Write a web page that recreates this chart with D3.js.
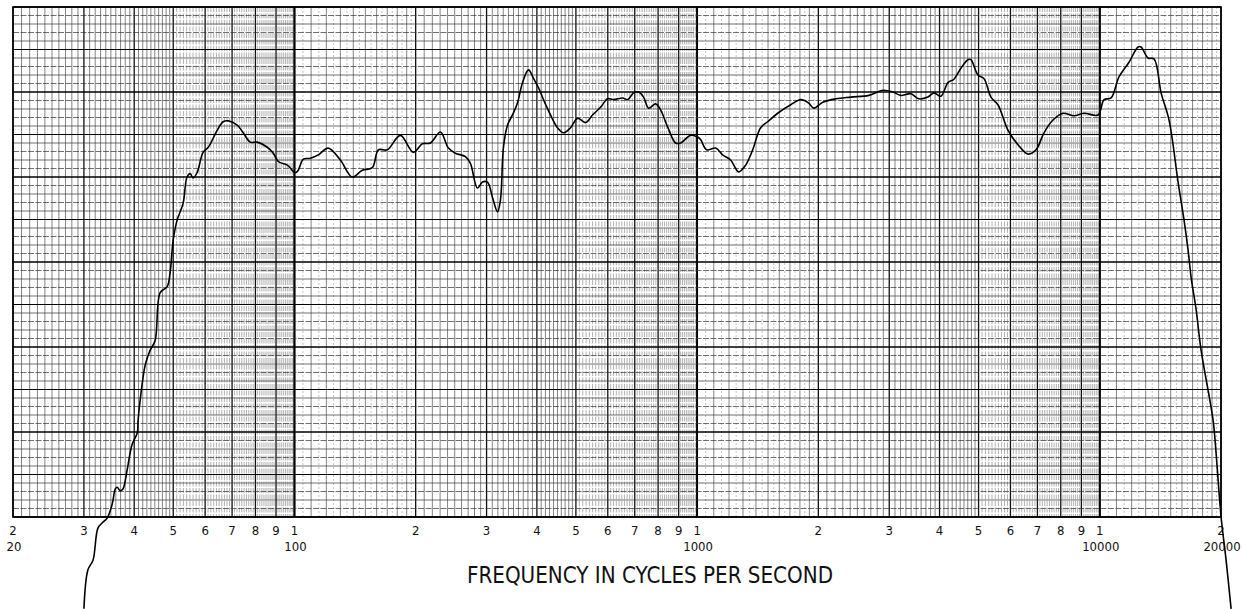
<!DOCTYPE html>
<html>
<head>
<meta charset="utf-8">
<script src="https://cdn.jsdelivr.net/npm/d3@7"></script>
<style>
    body { margin: 0; background: #fff; }
    svg { display: block; }
    .lbl { font-family: "Liberation Sans Narrow", "DejaVu Sans Condensed", "Roboto", sans-serif; font-stretch: condensed; fill: #111; }
</style>
</head>
<body>
<div id="chart"></div>
<script>
// response curve (frequency in Hz, level in dB above bottom line)
const freqs = [30, 30.7, 31.6, 32.5, 33.3, 34.3, 35.3, 35.9, 36.3, 36.9, 37.5, 38.4, 39.5, 40.7, 40.9, 41.4, 42.6, 43.8,
    45.1, 46.4, 48.3, 49.1, 50.0, 51.1, 52.9, 54.1, 55.1, 56.0, 57.3, 59.3, 61.1, 64.3, 66.5, 68.5, 72.1, 74.6, 77.7,
    80.8, 85.6, 88.6, 91.2, 96.0, 100.5, 102.2, 105.2, 109.5, 114.6, 121.3, 130, 139.2, 147.4, 156.1, 161.6, 170.1,
    183.2, 197.4, 207.8, 217.6, 230.4, 241.2, 251, 265.8, 273.5, 284.7, 293, 301.6, 310.3, 319.3, 324.8, 330.4, 338.1,
    347.9, 358, 368.4, 381.3, 392.4, 403.7, 415.4, 432.4, 450, 465.8, 484.9, 504.7, 528.4, 549.9, 575.7, 599.2, 620.2,
    653.1, 672, 695.5, 715.7, 736.3, 757.7, 788.6, 811.5, 844.7, 884.2, 910, 963.6, 1003, 1020, 1056, 1112, 1157, 1211,
    1268, 1320, 1374, 1438, 1497, 1585, 1708, 1809, 1893, 1948, 2052, 2211, 2408, 2670, 2892, 3062, 3206, 3394, 3554,
    3742, 3873, 4031, 4196, 4343, 4520, 4705, 4786, 4981, 5156, 5367, 5586, 5915, 6264, 6631, 6943, 7269, 7652, 8102,
    8631, 9138, 9900, 10246, 10666, 11166, 11820, 12445, 12660, 13178, 13638, 14200, 14860, 15648, 16194, 16570, 16858,
    17348, 17850, 19114, 19447, 20010, 20594, 21190];
const levels = [-10.8, -6.2, -5.1, -1.3, -0.7, -0.1, 1.6, 3.3, 3.5, 3.1, 3.3, 5.5, 8.5, 9.9, 11.4, 13.8, 17.9, 19.6,
    20.8, 26.4, 27.1, 28.7, 32.6, 34.9, 36.9, 40.0, 40.4, 39.9, 40.5, 42.9, 43.5, 45.5, 46.5, 46.6, 46.1, 45.2, 44.1,
    44.1, 43.5, 42.8, 41.8, 41.4, 40.5, 40.8, 42.1, 42.2, 42.6, 43.4, 42.0, 40.0, 40.8, 41.1, 43.2, 43.2,
    44.9, 42.9, 43.9, 44.0, 45.3, 43.4, 42.8, 42.4, 41.6, 38.7, 39.4, 39.4, 37.6, 35.9, 37.3, 43.5, 46.1,
    47.3, 48.7, 51.1, 52.6, 51.6, 50.5, 49.1, 47.3, 45.8, 45.2, 45.8, 46.9, 46.4, 47.3, 48.2, 49.2, 49.1,
    49.3, 49.1, 49.9, 50.0, 49.4, 48.1, 48.6, 47.9, 45.9, 44.0, 44.0, 44.9, 44.7, 44.4, 43.2, 43.4, 42.6, 42.0,
    40.6, 41.4, 43.2, 45.8, 46.5, 47.5, 48.5, 49.1, 48.7, 48.1, 48.8, 49.2, 49.4, 49.6, 50.2, 50.0, 49.6, 49.8, 49.2,
    49.4, 49.9, 49.5, 51.1, 51.5, 52.8, 53.8, 53.8, 52.0, 51.6, 49.4, 48.5, 45.5, 43.8, 42.7, 43.2, 45.2, 46.7, 47.5,
    47.2, 47.5, 47.3, 49.1, 49.3, 51.8, 53.5, 55.3, 55.3, 54.0, 53.9, 49.9, 46.7, 39.4, 34.9, 31.4, 28.2,
    24.4, 19.6, 11.4, 7.5, 0, -5.1, -10.8];

// labels printed under the paper
const tickFreqs = [20, 30, 40, 50, 60, 70, 80, 90, 100, 200, 300, 400, 500, 600, 700, 800, 900, 1000,
    2000, 3000, 4000, 5000, 6000, 7000, 8000, 9000, 10000, 20000];
const decadeLabels = [20, 100, 1000, 10000, 20000];
const title = "FREQUENCY IN CYCLES PER SECOND";

const margin = { top: 7, right: 21, bottom: 92, left: 13 };
const width = 1242 - margin.left - margin.right;
const height = 609 - margin.top - margin.bottom;

const x = d3.scaleLog()
    .domain([20, 20000])
    .range([0, width]);

const y = d3.scaleLinear()
    .domain([0, 60])
    .range([height, 0]);

const svg = d3.select("#chart")
    .append("svg")
    .attr("width", 1242)
    .attr("height", 609)
    .append("g")
    .attr("transform", `translate(${margin.left}, ${margin.top})`);

// vertical rulings of the log paper
let vlines = [];
[10, 100, 1000, 10000].forEach(base => {
    for (let k = 20; k <= 200; k++) {
        const m = k / 20;
        if (m >= 2 && k % 2 == 1) continue;
        const f = base * m;
        if (f < 20 || f > 20000) continue;
        let kind = "minor";
        if (k % 20 == 0) kind = (k == 20 || k == 200) ? "decade" : "major";
        else if (k % 2 == 1) kind = "half";
        else if (m > 5) kind = "fine";
        vlines.push({ f: f, kind: kind });
    }
});

const styles = {
    decade: { w: 1.8, c: "#000", dash: null },
    major: { w: 1.3, c: "#111", dash: null },
    minor: { w: 0.6, c: "#333", dash: null },
    fine: { w: 0.45, c: "#555", dash: "5,1.5" },
    half: { w: 0.5, c: "#888", dash: "2,2" }
};

svg.append("g")
    .selectAll("line")
    .data(vlines)
    .enter()
    .append("line")
    .attr("x1", d => x(d.f))
    .attr("x2", d => x(d.f))
    .attr("y1", 0)
    .attr("y2", height)
    .attr("stroke", d => styles[d.kind].c)
    .attr("stroke-width", d => styles[d.kind].w)
    .attr("stroke-dasharray", d => styles[d.kind].dash);

// horizontal rulings, one per dB
svg.append("g")
    .selectAll("line")
    .data(d3.range(0, 61))
    .enter()
    .append("line")
    .attr("x1", 0)
    .attr("x2", width)
    .attr("y1", d => y(d))
    .attr("y2", d => y(d))
    .attr("stroke", d => d % 5 == 0 ? "#000" : "#333")
    .attr("stroke-width", d => d % 10 == 0 ? 1.6 : (d % 5 == 0 ? 1.1 : 0.7))
    .attr("stroke-dasharray", d => (d % 5 != 0 && d % 2 == 1) ? "6,1.5" : null);

svg.append("rect")
    .attr("width", width)
    .attr("height", height)
    .attr("fill", "none")
    .attr("stroke", "#000")
    .attr("stroke-width", 1.6);

// frequency labels
svg.append("g")
    .selectAll("text")
    .data(tickFreqs)
    .enter()
    .append("text")
    .attr("class", "lbl")
    .attr("x", d => x(d))
    .attr("y", height + 18)
    .attr("text-anchor", "middle")
    .style("font-size", "13px")
    .text(d => String(d)[0]);

svg.append("g")
    .selectAll("text")
    .data(decadeLabels)
    .enter()
    .append("text")
    .attr("class", "lbl")
    .attr("x", d => x(d) + 1)
    .attr("y", height + 34)
    .attr("text-anchor", "middle")
    .style("font-size", "13px")
    .text(d => d);

svg.append("text")
    .attr("class", "lbl")
    .attr("x", 454)
    .attr("y", height + 66)
    .attr("textLength", 366)
    .attr("lengthAdjust", "spacingAndGlyphs")
    .style("font-size", "23px")
    .text(title);

// the response curve
const curve = freqs.map((f, i) => [f, levels[i]]);

const line = d3.line()
    .x(d => x(d[0]))
    .y(d => y(d[1]))
    .curve(d3.curveCatmullRom.alpha(0.5));

svg.append("path")
    .datum(curve)
    .attr("fill", "none")
    .attr("stroke", "#000")
    .attr("stroke-width", 1.6)
    .attr("d", line);
</script>
</body>
</html>
